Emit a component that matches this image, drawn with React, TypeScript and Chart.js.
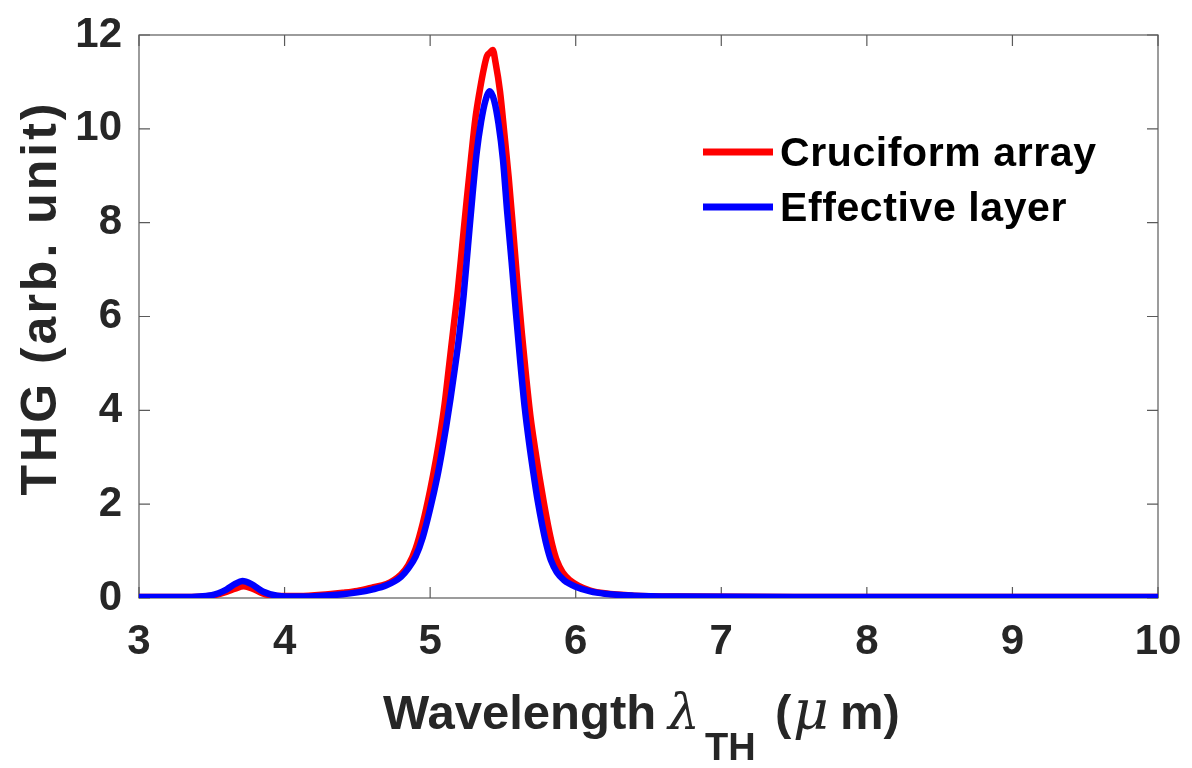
import React, { useEffect, useRef } from "react";
import { Chart, registerables } from "chart.js";

Chart.register(...registerables);

// Cruciform array THG spectrum
const cruciformWavelength = [3.0, 3.3, 3.5, 3.6, 3.66, 3.72, 3.78, 3.85, 3.95, 4.1, 4.3, 4.4, 4.5, 4.6, 4.7, 4.75, 4.8, 4.85, 4.9, 4.95, 5.0, 5.04, 5.07, 5.1, 5.13, 5.16, 5.19, 5.22, 5.25, 5.28, 5.31, 5.34, 5.37, 5.39, 5.41, 5.43, 5.45, 5.48, 5.51, 5.54, 5.57, 5.6, 5.63, 5.66, 5.69, 5.72, 5.75, 5.78, 5.81, 5.84, 5.87, 5.91, 5.96, 6.02, 6.1, 6.2, 6.4, 6.7, 7.5, 8.5, 10];
const cruciformTHG = [0.02, 0.02, 0.05, 0.13, 0.2, 0.25, 0.2, 0.1, 0.04, 0.04, 0.08, 0.11, 0.15, 0.22, 0.3, 0.38, 0.5, 0.7, 1.05, 1.6, 2.3, 2.95, 3.5, 4.15, 4.95, 5.75, 6.55, 7.5, 8.45, 9.35, 10.2, 10.8, 11.3, 11.55, 11.62, 11.68, 11.4, 10.8, 9.9, 8.95, 7.85, 6.7, 5.65, 4.7, 3.85, 3.2, 2.6, 2.05, 1.55, 1.12, 0.8, 0.55, 0.38, 0.26, 0.16, 0.1, 0.05, 0.03, 0.02, 0.02, 0.02];

// Effective layer THG spectrum
const effectiveWavelength = [3.0, 3.3, 3.5, 3.6, 3.66, 3.71, 3.77, 3.85, 3.95, 4.1, 4.2, 4.4, 4.5, 4.6, 4.7, 4.8, 4.85, 4.9, 4.95, 5.0, 5.05, 5.08, 5.11, 5.14, 5.17, 5.2, 5.23, 5.26, 5.29, 5.32, 5.35, 5.38, 5.41, 5.44, 5.47, 5.5, 5.53, 5.56, 5.59, 5.62, 5.65, 5.68, 5.71, 5.74, 5.77, 5.8, 5.83, 5.87, 5.92, 6.0, 6.1, 6.2, 6.4, 6.7, 7.5, 8.5, 10];
const effectiveTHG = [0.02, 0.02, 0.06, 0.18, 0.3, 0.36, 0.3, 0.14, 0.05, 0.03, 0.04, 0.08, 0.12, 0.18, 0.27, 0.45, 0.63, 0.88, 1.3, 1.9, 2.6, 3.1, 3.65, 4.25, 4.9, 5.6, 6.45, 7.5, 8.55, 9.5, 10.15, 10.6, 10.8, 10.6, 10.1, 9.35, 8.2, 7.15, 6.05, 5.0, 4.05, 3.3, 2.65, 2.05, 1.55, 1.12, 0.8, 0.55, 0.38, 0.24, 0.14, 0.09, 0.05, 0.03, 0.02, 0.02, 0.02];

const seriesNames = ["Cruciform array", "Effective layer"];
const seriesColors = ["#ff0000", "#0000ff"];

const xTicks = [3, 4, 5, 6, 7, 8, 9, 10];
const yTicks = [0, 2, 4, 6, 8, 10, 12];

const TEXT = "#262626";
const SANS = "'Liberation Sans', Arial, Helvetica, sans-serif";
const SERIF = "'DejaVu Serif', 'Liberation Serif', serif";

// Full box around the axes with inward-pointing ticks on every side
const axesBox = {
  id: "axesBox",
  beforeDatasetsDraw(chart: any) {
    const { ctx, chartArea: a, scales } = chart;
    ctx.save();
    ctx.strokeStyle = "#5a5a5a";
    ctx.lineWidth = 1.2;
    ctx.strokeRect(a.left, a.top, a.right - a.left, a.bottom - a.top);
    const len = 11;
    ctx.beginPath();
    xTicks.forEach((t) => {
      const px = scales.x.getPixelForValue(t);
      ctx.moveTo(px, a.bottom);
      ctx.lineTo(px, a.bottom - len);
      ctx.moveTo(px, a.top);
      ctx.lineTo(px, a.top + len);
    });
    yTicks.forEach((t) => {
      const py = scales.y.getPixelForValue(t);
      ctx.moveTo(a.left, py);
      ctx.lineTo(a.left + len, py);
      ctx.moveTo(a.right, py);
      ctx.lineTo(a.right - len, py);
    });
    ctx.stroke();
    ctx.restore();
  },
};

// Axis titles (with subscript) and the legend inside the plot
const annotations = {
  id: "annotations",
  afterDraw(chart: any) {
    const { ctx } = chart;
    ctx.save();
    ctx.fillStyle = TEXT;
    ctx.textBaseline = "alphabetic";
    ctx.textAlign = "left";

    // x title: Wavelength λ_TH (μm)
    const base = 729;
    const parts: [string, string, number, number][] = [
      ["Wavelength", `bold 49px ${SANS}`, 383, base],
      ["λ", `italic 50px ${SERIF}`, 668, base],
      ["TH", `bold 38px ${SANS}`, 705, base + 31],
      ["(", `bold 49px ${SANS}`, 775, base],
      ["μ", `italic 55px ${SERIF}`, 793, base],
      ["m)", `bold 49px ${SANS}`, 840, base],
    ];
    parts.forEach(([t, f, x, y]) => {
      ctx.font = f;
      ctx.fillText(t, x, y);
    });

    // y title
    ctx.save();
    ctx.translate(56, 298);
    ctx.rotate(-Math.PI / 2);
    ctx.textAlign = "center";
    ctx.font = `bold 50px ${SANS}`;
    try {
      (ctx as any).letterSpacing = "3px";
    } catch (e) {}
    ctx.fillText("THG (arb. unit)", 0, 0);
    ctx.restore();

    // legend
    const rows = [152, 207];
    rows.forEach((y, i) => {
      ctx.strokeStyle = seriesColors[i];
      ctx.lineWidth = 7;
      ctx.beginPath();
      ctx.moveTo(703, y);
      ctx.lineTo(773, y);
      ctx.stroke();
      ctx.fillStyle = "#000";
      ctx.font = `bold 41px ${SANS}`;
      ctx.textBaseline = "middle";
      try {
        (ctx as any).letterSpacing = "0.6px";
      } catch (e) {}
      ctx.fillText(seriesNames[i], 780, y + 3);
    });
    ctx.restore();
  },
};

export default function App() {
  const canvasRef = useRef<HTMLCanvasElement | null>(null);

  useEffect(() => {
    if (!canvasRef.current) return;
    const toPoints = (xs: number[], ys: number[]) => xs.map((v, i) => ({ x: v, y: ys[i] }));
    const chart = new Chart(canvasRef.current, {
      type: "line",
      data: {
        datasets: [
          {
            label: seriesNames[0],
            data: toPoints(cruciformWavelength, cruciformTHG),
            borderColor: seriesColors[0],
            borderWidth: 6.5,
            pointRadius: 0,
            cubicInterpolationMode: "monotone",
            borderJoinStyle: "round",
            borderCapStyle: "round",
            fill: false,
            order: 1,
          },
          {
            label: seriesNames[1],
            data: toPoints(effectiveWavelength, effectiveTHG),
            borderColor: seriesColors[1],
            borderWidth: 6.5,
            pointRadius: 0,
            cubicInterpolationMode: "monotone",
            borderJoinStyle: "round",
            borderCapStyle: "round",
            fill: false,
            order: 0,
          },
        ],
      },
      options: {
        animation: false,
        responsive: false,
        maintainAspectRatio: false,
        layout: { padding: { left: 0, top: 35, right: 34, bottom: 0 } },
        plugins: {
          legend: { display: false },
          tooltip: { enabled: false },
        },
        scales: {
          x: {
            type: "linear",
            min: 3,
            max: 10,
            afterBuildTicks: (s: any) => {
              s.ticks = xTicks.map((v) => ({ value: v }));
            },
            afterFit: (s: any) => {
              s.height = 170;
              s.paddingLeft = 0;
              s.paddingRight = 0;
            },
            grid: { display: false, drawTicks: false },
            border: { display: false },
            ticks: {
              padding: 19,
              color: TEXT,
              font: { family: SANS, size: 42, weight: "bold" },
              maxRotation: 0,
            },
          },
          y: {
            type: "linear",
            min: 0,
            max: 12,
            afterBuildTicks: (s: any) => {
              s.ticks = yTicks.map((v) => ({ value: v }));
            },
            afterFit: (s: any) => {
              s.width = 139;
              s.paddingTop = 0;
              s.paddingBottom = 0;
            },
            grid: { display: false, drawTicks: false },
            border: { display: false },
            ticks: {
              padding: 17,
              color: TEXT,
              font: { family: SANS, size: 42, weight: "bold" },
            },
          },
        },
      },
      plugins: [axesBox, annotations],
    });
    return () => chart.destroy();
  }, []);

  return (
    <div style={{ position: "absolute", left: 0, top: 0, width: 1192, height: 768, background: "#fff" }}>
      <canvas ref={canvasRef} width={1192} height={768} style={{ display: "block" }} />
    </div>
  );
}
